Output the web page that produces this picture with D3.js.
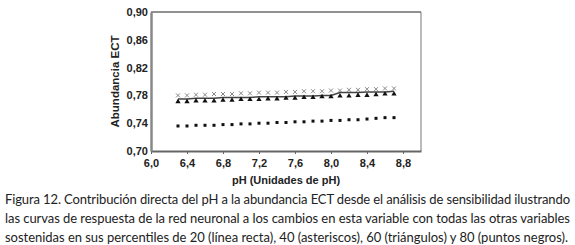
<!DOCTYPE html>
<html>
<head>
<meta charset="utf-8">
<script src="https://cdn.jsdelivr.net/npm/d3@7"></script>
<style>
  body { margin: 0; background: #fff; }
  svg { display: block; }
</style>
</head>
<body>
<svg id="chart" width="575" height="245"></svg>
<script>
// pH values (x) and the four percentile curves
const phValues = [6.3, 6.4, 6.5, 6.6, 6.7, 6.8, 6.9, 7.0, 7.1, 7.2, 7.3, 7.4, 7.5,
  7.6, 7.7, 7.8, 7.9, 8.0, 8.1, 8.2, 8.3, 8.4, 8.5, 8.6, 8.7]
const p20Line = [0.775, 0.775, 0.776, 0.776, 0.776, 0.777, 0.777, 0.777, 0.777, 0.778, 0.778, 0.778,
  0.778, 0.779, 0.779, 0.779, 0.780, 0.780, 0.784, 0.784, 0.784, 0.785, 0.785, 0.785, 0.786]
const p40Cross = [0.780, 0.780, 0.781, 0.781, 0.782, 0.782, 0.782, 0.783, 0.783, 0.784, 0.784, 0.784,
  0.785, 0.785, 0.786, 0.786, 0.786, 0.787, 0.787, 0.788, 0.788, 0.789, 0.789, 0.790, 0.790]
const p60Tri = [0.771, 0.771, 0.772, 0.772, 0.772, 0.773, 0.773, 0.774, 0.774, 0.774, 0.775, 0.775,
  0.776, 0.776, 0.777, 0.777, 0.778, 0.778, 0.779, 0.779, 0.780, 0.780, 0.781, 0.782, 0.782]
const p80Dot = [0.736, 0.736, 0.737, 0.737, 0.737, 0.738, 0.738, 0.739, 0.739, 0.740, 0.740, 0.741,
  0.741, 0.742, 0.742, 0.743, 0.743, 0.744, 0.744, 0.745, 0.745, 0.746, 0.747, 0.748, 0.748]

const xTicks = [6.0, 6.4, 6.8, 7.2, 7.6, 8.0, 8.4, 8.8]
const yTicks = [0.70, 0.74, 0.78, 0.82, 0.86, 0.90]

const captionLines = [
  'Figura 12. Contribución directa del pH a la abundancia ECT desde el análisis de sensibilidad ilustrando',
  'las curvas de respuesta de la red neuronal a los cambios en esta variable con todas las otras variables',
  'sostenidas en sus percentiles de 20 (línea recta), 40 (asteriscos), 60 (triángulos) y 80 (puntos negros).'
]

const svg = d3.select('#chart')
const margin = { top: 12, left: 151, right: 154, bottom: 94 }
const width = 575, height = 245
const innerW = width - margin.left - margin.right
const innerH = height - margin.top - margin.bottom

const x = d3.scaleLinear().domain([6.0, 9.0]).range([0, innerW])
const y = d3.scaleLinear().domain([0.70, 0.90]).range([innerH, 0])
const fmt = d3.format('.1f'), fmt2 = d3.format('.2f')
const comma = f => v => f(v).replace('.', ',')

const g = svg.append('g').attr('transform', `translate(${margin.left},${margin.top})`)

// frame: top and right thin
g.append('line').attr('x1', 0).attr('x2', innerW).attr('y1', 0).attr('y2', 0)
  .attr('stroke', '#222').attr('stroke-width', 1)
g.append('line').attr('x1', innerW).attr('x2', innerW).attr('y1', 0).attr('y2', innerH)
  .attr('stroke', '#777').attr('stroke-width', 1)

const labelFont = "'Liberation Sans', Arial, sans-serif"

const xAxis = g.append('g').attr('transform', `translate(0,${innerH})`)
  .call(d3.axisBottom(x).tickValues(xTicks).tickFormat(comma(fmt)).tickSize(3).tickSizeOuter(0))
const yAxis = g.append('g')
  .call(d3.axisLeft(y).tickValues(yTicks).tickFormat(comma(fmt2)).tickSize(0).tickSizeOuter(0))

xAxis.select('.domain').attr('stroke', '#666').attr('stroke-width', 2)
yAxis.select('.domain').attr('stroke', '#888').attr('stroke-width', 2.5)
xAxis.selectAll('.tick line').attr('stroke', '#666')
for (const ax of [xAxis, yAxis]) {
  ax.selectAll('text').attr('font-family', labelFont).attr('font-weight', 'bold')
    .attr('font-size', 11).attr('fill', '#222')
}
xAxis.selectAll('text').attr('dy', '0.9em')
yAxis.selectAll('text').attr('x', -3)

svg.append('text')
  .attr('transform', `translate(119,${margin.top + innerH / 2}) rotate(-90)`)
  .attr('text-anchor', 'middle')
  .attr('font-family', labelFont).attr('font-weight', 'bold').attr('font-size', 11.5)
  .attr('fill', '#222')
  .text('Abundancia ECT')

svg.append('text')
  .attr('x', margin.left + x(7.5)).attr('y', 184)
  .attr('text-anchor', 'middle')
  .attr('font-family', labelFont).attr('font-weight', 'bold').attr('font-size', 11)
  .attr('fill', '#222')
  .text('pH (Unidades de pH)')

const rows = phValues.map((ph, i) => ({ ph, a: p20Line[i], b: p40Cross[i], c: p60Tri[i], d: p80Dot[i] }))

// 40th percentile: gray crosses
g.selectAll('.cross').data(rows).enter().append('path')
  .attr('class', 'cross')
  .attr('d', d => {
    const cx = x(d.ph), cy = y(d.b), s = 2
    return `M${cx - s},${cy - s}L${cx + s},${cy + s}M${cx - s},${cy + s}L${cx + s},${cy - s}`
  })
  .attr('stroke', '#888').attr('stroke-width', 1)

// 20th percentile: line
g.append('path').datum(rows)
  .attr('fill', 'none').attr('stroke', '#444').attr('stroke-width', 1.5)
  .attr('d', d3.line().x(d => x(d.ph)).y(d => y(d.a)))

// 60th percentile: triangles
g.selectAll('.tri').data(rows).enter().append('path')
  .attr('class', 'tri')
  .attr('transform', d => `translate(${x(d.ph)},${y(d.c)})`)
  .attr('d', d3.symbol().type(d3.symbolTriangle).size(12))
  .attr('fill', '#111')

// 80th percentile: black dots
g.selectAll('.dot').data(rows).enter().append('rect')
  .attr('class', 'dot')
  .attr('x', d => x(d.ph) - 1.5).attr('y', d => y(d.d) - 1.5)
  .attr('width', 3).attr('height', 3)
  .attr('fill', '#111')

// caption
const cap = svg.append('g')
captionLines.forEach((line, i) => {
  cap.append('text')
    .attr('x', 5).attr('y', 204 + i * 19)
    .attr('font-family', "Lato, 'Open Sans', sans-serif").attr('font-size', 13)
    .attr('fill', '#222')
    .attr('textLength', i === 2 ? 563 : 565).attr('lengthAdjust', 'spacing')
    .text(line)
})
</script>
</body>
</html>
